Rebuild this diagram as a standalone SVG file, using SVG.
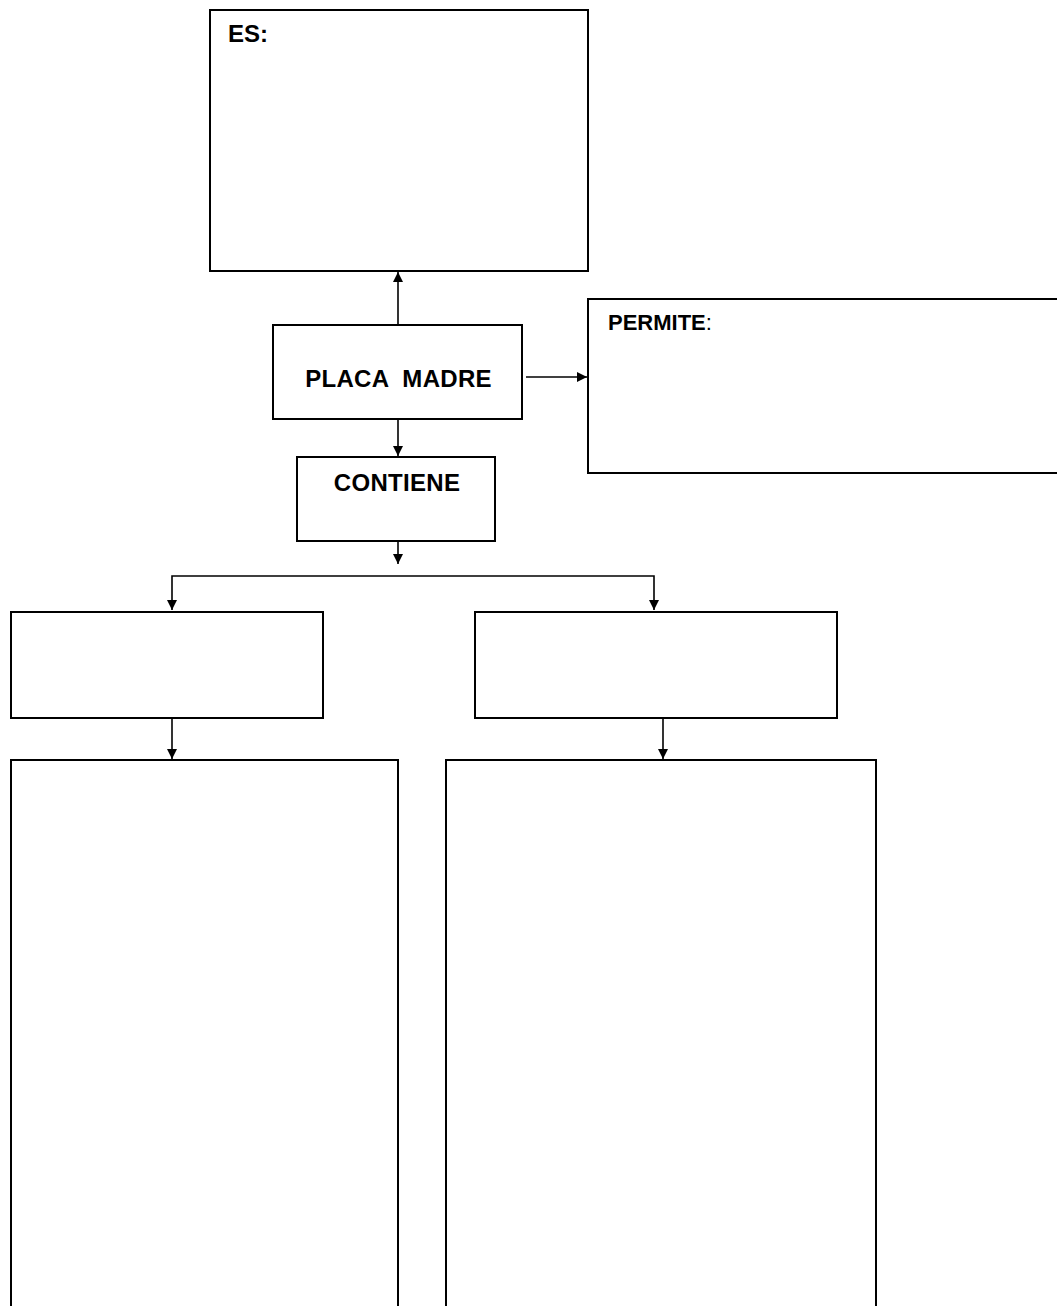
<svg xmlns="http://www.w3.org/2000/svg" width="1057" height="1306" viewBox="0 0 1057 1306">
<style>
.box{fill:#fff;stroke:#000;stroke-width:2}
.con{fill:none;stroke:#000;stroke-width:1.6}
.t{font-family:"Liberation Sans",Arial,sans-serif;font-weight:bold;fill:#000}
</style>
<defs>
<marker id="ah" viewBox="0 0 10 10" refX="10" refY="5" markerWidth="6.5" markerHeight="6.5" markerUnits="strokeWidth" orient="auto">
<path d="M0,0 L10,5 L0,10 Z" fill="#000"/>
</marker>
</defs>
<rect width="1057" height="1306" fill="#fff"/>
<g id="es">
<rect class="box" x="210" y="10" width="378" height="261"/>
<text class="t" x="228" y="42" font-size="24">ES:</text>
</g>
<g id="placa-madre">
<rect class="box" x="273" y="325" width="249" height="94"/>
<text class="t" x="398.5" y="387" font-size="24" letter-spacing="0.3" text-anchor="middle" xml:space="preserve">PLACA  MADRE</text>
</g>
<g id="permite">
<rect class="box" x="588" y="299" width="480" height="174"/>
<text class="t" x="608" y="330" font-size="22">PERMITE<tspan font-weight="normal">:</tspan></text>
</g>
<g id="contiene">
<rect class="box" x="297" y="457" width="198" height="84"/>
<text class="t" x="397" y="491" font-size="24" letter-spacing="0.3" text-anchor="middle">CONTIENE</text>
</g>
<g id="mid-left">
<rect class="box" x="11" y="612" width="312" height="106"/>
</g>
<g id="mid-right">
<rect class="box" x="475" y="612" width="362" height="106"/>
</g>
<g id="bottom-left">
<rect class="box" x="11" y="760" width="387" height="580"/>
</g>
<g id="bottom-right">
<rect class="box" x="446" y="760" width="430" height="580"/>
</g>
<g id="connectors">
<line class="con" x1="398" y1="325" x2="398" y2="272" marker-end="url(#ah)"/>
<line class="con" x1="526" y1="377" x2="587" y2="377" marker-end="url(#ah)"/>
<line class="con" x1="398" y1="419" x2="398" y2="456" marker-end="url(#ah)"/>
<line class="con" x1="398" y1="542" x2="398" y2="564" marker-end="url(#ah)"/>
<path class="con" d="M398,576 H172 V610" marker-end="url(#ah)"/>
<path class="con" d="M398,576 H654 V610" marker-end="url(#ah)"/>
<line class="con" x1="172" y1="719" x2="172" y2="759" marker-end="url(#ah)"/>
<line class="con" x1="663" y1="719" x2="663" y2="759" marker-end="url(#ah)"/>
</g>
</svg>
